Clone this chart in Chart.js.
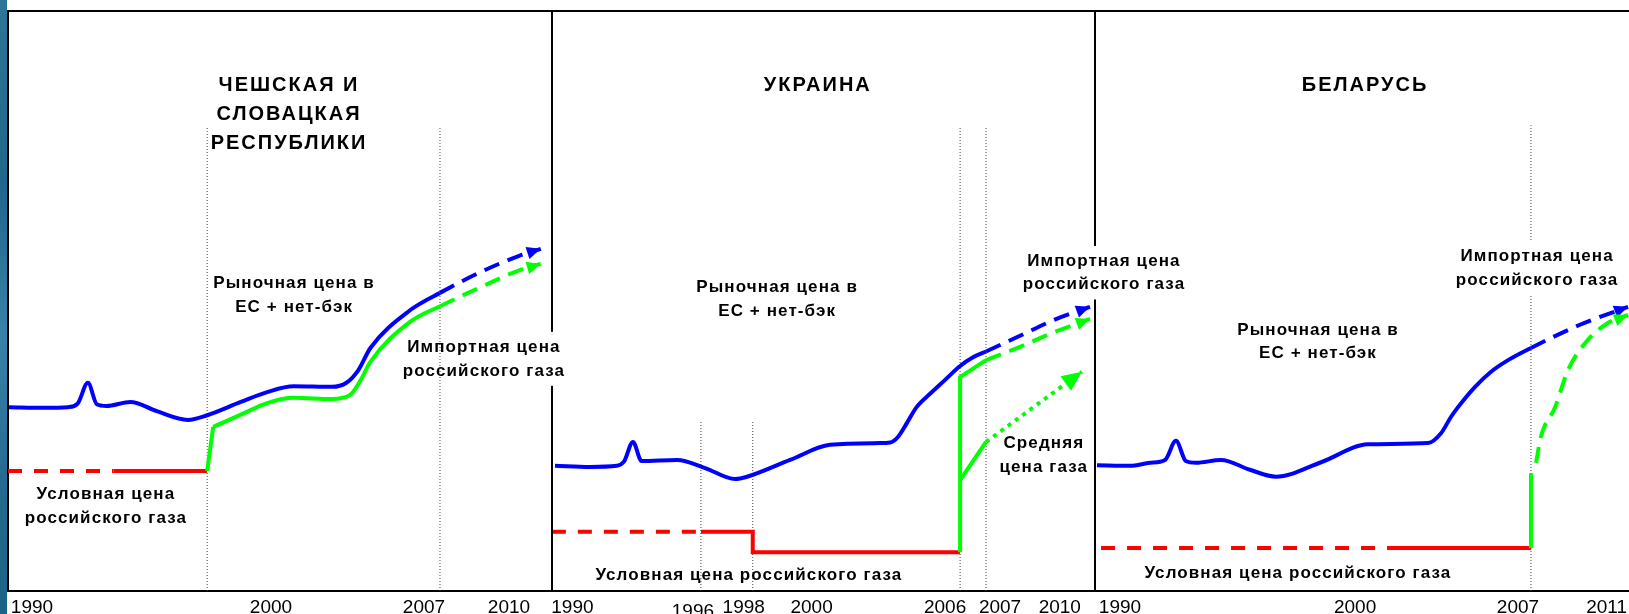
<!DOCTYPE html>
<html>
<head>
<meta charset="utf-8">
<script src="https://cdn.jsdelivr.net/npm/chart.js@4.4.1/dist/chart.umd.min.js"></script>
<style>
  html, body { margin: 0; padding: 0; background: #fff; }
  body { width: 1629px; height: 614px; position: relative; overflow: hidden; }
  #strip { position: absolute; left: 0; top: 0; width: 7px; height: 614px;
           background: linear-gradient(180deg, #2f7499 0%, #21668c 30%, #3a82a8 55%, #24698f 80%, #1f6288 100%); }
  canvas { position: absolute; top: 0; }
  #cz { left: 0; z-index: 3; }
  #ua { left: 540px; z-index: 2; }
  #by { left: 1080px; z-index: 1; }
</style>
</head>
<body>
<div id="strip"></div>
<canvas id="cz" width="600" height="614"></canvas>
<canvas id="ua" width="660" height="614"></canvas>
<canvas id="by" width="549" height="614"></canvas>
<script>
// Чехия и Словакия  (x = год, y = условный индекс цены)
const czTicks  = [1990, 2000, 2007, 2010];
const czEvents = [1997.3, 2007];
const czMarket = [[1989.04,31.7],[1990.5,31.6],[1991.5,31.7],[1991.9,32.3],[1992.33,35.9],[1992.7,32.2],[1993.1,31.9],
                  [1994.1,32.6],[1995.2,31.0],[1996.5,29.5],[1997.3,30.3],[1998.7,32.6],[1999.8,34.3],[2000.9,35.3],
                  [2002.5,35.2],[2003.1,35.9],[2003.6,38.1],[2004.1,41.9],[2005.75,48.4],[2007,51.4],
                  [2008.7,55.0],[2010.3,57.8],[2011.2,59.0]];
const czJump   = [[1997.3,20.7],[1997.55,28.3]];
const czImport = [[1997.55,28.3],[1998.7,30.4],[1999.8,32.4],[2000.9,33.3],[2002.5,33.1],[2003.25,33.8],
                  [2003.7,36.4],[2004.1,39.5],[2005.75,46.4],[2007,49.1],[2008.7,52.4],[2010.3,55.3],[2011.2,56.4]];
const czCond   = [[1989,20.7],[1993.4,20.7],[1997.3,20.7]];

// Украина
const uaTicks   = [1990, 1996, 1998, 2000, 2006, 2007, 2010];
const uaMarket  = [[1990.37,21.6],[1991.72,21.4],[1992.76,21.6],[1993.03,22.3],[1993.38,25.7],[1993.71,22.4],[1995.08,22.6],
                   [1996.16,21.2],[1997.32,19.3],[1997.78,19.7],[1999.44,22.6],[2000.98,25.2],[2002.91,25.5],[2003.3,25.6],
                   [2003.61,26.6],[2003.94,28.9],[2004.32,31.7],[2004.84,34.0],[2005.42,36.4],[2006.0,38.8],[2006.5,40.3],
                   [2007,41.3],[2008.31,44.0],[2009.55,46.6],[2011.01,49.0]];
const uaImport  = [[2006,6.7],[2006,36.9],[2007,39.8],[2008.31,42.1],[2009.55,44.5],[2011.01,46.9]];
const uaAverage = [[2006,19.1],[2007,25.7],[2010.7,37.8]];
const uaCond    = [[1990.25,10.2],[1996,10.2],[1998,6.7],[2006,6.7]];

// Беларусь
const byTicks    = [1990, 2000, 2007, 2011];
const byMarket   = [[1989.92,21.7],[1991.22,21.6],[1992.01,22.1],[1992.6,22.6],[1993.03,25.9],[1993.42,22.4],[1993.82,22.1],
                    [1994.8,22.6],[1995.94,20.9],[1996.97,19.7],[1998.74,22.2],[2000.59,25.3],[2002.95,25.5],[2003.46,27.2],
                    [2003.85,30.0],[2004.13,31.7],[2004.8,35.2],[2005.43,37.8],[2006.1,39.8],[2007,41.9],
                    [2008.93,45.9],[2010.82,49.0]];
const byImportJump     = [[2007,7.4],[2007,20.3]];
const byImportForecast = [[2007.2,22.1],[2007.39,26.6],[2007.95,31.7],[2008.46,38.1],[2009.24,43.3],[2010.03,46.2],[2010.82,47.6]];
const byCond     = [[1990.08,7.4],[2001.49,7.4],[2007,7.4]];

const FONT = '"Liberation Sans", Arial, sans-serif';
const BLUE = '#0000ff', GREEN = '#00ff00', RED = '#ff0000';
const DASH = [16, 9], RED_DASH = [14, 12], DOTS = [4, 5];

const pts = arr => arr.map(([x, y]) => ({ x, y }));

function dashed(from, to, pattern) {
  return { borderDash: ctx => (ctx.p0.parsed.x >= from && ctx.p1.parsed.x <= to) ? pattern : undefined };
}

function series(data, color, opts) {
  return Object.assign({
    data: pts(data), borderColor: color, borderWidth: 4, pointRadius: 0,
    fill: false, tension: 0, clip: false, order: 2, borderCapStyle: 'butt'
  }, opts || {});
}

function smooth(data, color, opts) {
  return series(data, color, Object.assign({ tension: 0.4, cubicInterpolationMode: 'monotone' }, opts || {}));
}

function eventLines(years, top) {
  return years.map(x => ({
    data: [{ x, y: 0 }, { x, y: top }], borderColor: '#444', borderWidth: 1,
    borderDash: [1, 2], pointRadius: 0, order: 10
  }));
}

function drawLabels(chart, list) {
  const { ctx, scales: { x, y } } = chart;
  list.forEach(l => {
    const cx = x.getPixelForValue(l.x), cy = y.getPixelForValue(l.y);
    const lh = l.lh || 24;
    ctx.save();
    ctx.font = 'bold ' + (l.size || 17) + 'px ' + FONT;
    ctx.letterSpacing = (l.spacing != null ? l.spacing : 1.1) + 'px';
    ctx.textAlign = 'center';
    ctx.textBaseline = 'middle';
    if (l.box) {
      const w = Math.max(...l.lines.map(s => ctx.measureText(s).width));
      ctx.fillStyle = '#fff';
      ctx.fillRect(cx - w / 2 - 5, cy - 15, w + 10, (l.lines.length - 1) * lh + 30);
    }
    ctx.fillStyle = '#000';
    l.lines.forEach((s, i) => ctx.fillText(s, cx, cy + i * lh));
    ctx.restore();
  });
}

function drawTicks(chart, o) {
  const { ctx, scales: { x } } = chart;
  ctx.save();
  ctx.font = '19px ' + FONT;
  ctx.fillStyle = '#000';
  ctx.textAlign = 'center';
  ctx.textBaseline = 'middle';
  o.ticks.forEach((v, i) => {
    const dx = (o.tickShift && o.tickShift[i]) || 0;
    const dy = (o.tickDrop && o.tickDrop[i]) || 0;
    ctx.fillText(String(v), x.getPixelForValue(v) + dx, x.top + 17 + dy);
  });
  ctx.restore();
}

function drawArrow(ctx, from, to, len, color) {
  const a = Math.atan2(to.y - from.y, to.x - from.x);
  ctx.save();
  ctx.translate(to.x, to.y);
  ctx.rotate(a);
  ctx.beginPath();
  ctx.moveTo(0, 0);
  ctx.lineTo(-len, -len * 0.45);
  ctx.lineTo(-len, len * 0.45);
  ctx.closePath();
  ctx.fillStyle = color;
  ctx.fill();
  ctx.restore();
}

const sketch = {
  id: 'sketch',
  beforeDatasetsDraw(chart, args, o) {
    const { ctx, chartArea: a } = chart;
    ctx.save();
    ctx.strokeStyle = '#000';
    ctx.lineWidth = 2;
    ctx.beginPath();
    ctx.moveTo(a.left, a.bottom);
    ctx.lineTo(a.left, a.top);
    if (o.right) { ctx.lineTo(a.right, a.top); ctx.lineTo(a.right, a.bottom); }
    else ctx.lineTo(a.right + 2, a.top);
    ctx.stroke();
    ctx.restore();
    drawLabels(chart, o.labels.filter(l => l.layer === 'back'));
  },
  afterDatasetsDraw(chart, args, o) {
    chart.data.datasets.forEach((ds, i) => {
      if (!ds.arrow) return;
      const el = chart.getDatasetMeta(i).data;
      drawArrow(chart.ctx, el[el.length - 2], el[el.length - 1], ds.arrow, ds.borderColor);
    });
    drawLabels(chart, o.labels.filter(l => l.layer !== 'back'));
    drawTicks(chart, o);
  }
};

function makePanel(id, cfg) {
  return new Chart(document.getElementById(id), {
    type: 'line',
    data: { datasets: cfg.datasets },
    options: {
      responsive: false,
      animation: false,
      devicePixelRatio: 1,
      events: [],
      layout: { padding: cfg.padding },
      plugins: {
        legend: { display: false },
        tooltip: { enabled: false },
        sketch: { right: cfg.right, labels: cfg.labels, ticks: cfg.ticks, tickShift: cfg.tickShift, tickDrop: cfg.tickDrop }
      },
      scales: {
        x: {
          type: 'linear', min: cfg.min, max: cfg.max, bounds: 'data',
          grid: { display: false, drawTicks: false },
          border: { display: true, color: '#000', width: 2 },
          ticks: { display: false },
          afterFit: s => { s.height = 23; }
        },
        y: { display: false, min: 0, max: 100 }
      }
    },
    plugins: [sketch]
  });
}

makePanel('cz', {
  min: 1989, max: 2011.667, ticks: czTicks, tickShift: [0, -1, -16, -3], right: true,
  padding: { left: 8, right: 48, top: 11, bottom: 0 },
  datasets: [
    ...eventLines(czEvents, 80),
    smooth(czMarket, BLUE, { segment: dashed(2007, Infinity, DASH), arrow: 14, order: 1 }),
    series(czJump, GREEN),
    smooth(czImport, GREEN, { segment: dashed(2007, Infinity, DASH), arrow: 14 }),
    series(czCond, RED, { segment: dashed(-Infinity, 1993.4, RED_DASH), order: 3 })
  ],
  labels: [
    { lines: ['ЧЕШСКАЯ И', 'СЛОВАЦКАЯ', 'РЕСПУБЛИКИ'], x: 2000.71, y: 87.1, size: 20, lh: 29, spacing: 2 },
    { lines: ['Рыночная цена в', 'ЕС + нет-бэк'], x: 2000.92, y: 53.1 },
    { lines: ['Импортная цена', 'российского газа'], x: 2008.83, y: 42.1, box: true, layer: 'back' },
    { lines: ['Условная цена', 'российского газа'], x: 1993.08, y: 16.6, lh: 23.5 }
  ]
});

makePanel('ua', {
  min: 1990.255, max: 2011.204, ticks: uaTicks, right: true,
  tickShift: [27, -8, -9, 7, -15, 14, -4], tickDrop: [0, 4, 0, 0, 0, 0, 0],
  padding: { left: 12, right: 105, top: 11, bottom: 0 },
  datasets: [
    ...eventLines([1996, 1998], 29.3),
    ...eventLines([2006, 2007], 80),
    smooth(uaMarket, BLUE, { segment: dashed(2007, Infinity, DASH), arrow: 14, order: 1 }),
    series(uaImport, GREEN, { segment: dashed(2007, Infinity, DASH), arrow: 14 }),
    series(uaAverage, GREEN, { segment: dashed(2007, Infinity, DOTS), arrow: 20 }),
    series(uaCond, RED, { stepped: true, segment: dashed(-Infinity, 1996, RED_DASH), order: 3 })
  ],
  labels: [
    { lines: ['УКРАИНА'], x: 2000.51, y: 87.1, size: 20, spacing: 2 },
    { lines: ['Рыночная цена в', 'ЕС + нет-бэк'], x: 1998.94, y: 52.4 },
    { lines: ['Импортная цена', 'российского газа'], x: 2011.55, y: 56.9, lh: 23.5, box: true },
    { lines: ['Средняя', 'цена газа'], x: 2009.23, y: 25.5 },
    { lines: ['Условная цена российского газа'], x: 1997.85, y: 2.76 }
  ]
});

makePanel('by', {
  min: 1989.843, max: 2010.858, ticks: byTicks, right: false, tickShift: [21, 2, -13, -26],
  padding: { left: 15, right: 0, top: 11, bottom: 0 },
  datasets: [
    ...eventLines([2007], 80.3),
    smooth(byMarket, BLUE, { segment: dashed(2007, Infinity, DASH), arrow: 14, order: 1 }),
    series(byImportJump, GREEN),
    smooth(byImportForecast, GREEN, { borderDash: DASH, arrow: 14 }),
    series(byCond, RED, { segment: dashed(-Infinity, 2001.49, RED_DASH), order: 3 })
  ],
  labels: [
    { lines: ['БЕЛАРУСЬ'], x: 2000.47, y: 87.1, size: 20, spacing: 2 },
    { lines: ['Рыночная цена в', 'ЕС + нет-бэк'], x: 1998.62, y: 45.0, lh: 23.5 },
    { lines: ['Импортная цена', 'российского газа'], x: 2007.24, y: 57.76, box: true },
    { lines: ['Условная цена российского газа'], x: 1997.83, y: 3.1 }
  ]
});
</script>
</body>
</html>
